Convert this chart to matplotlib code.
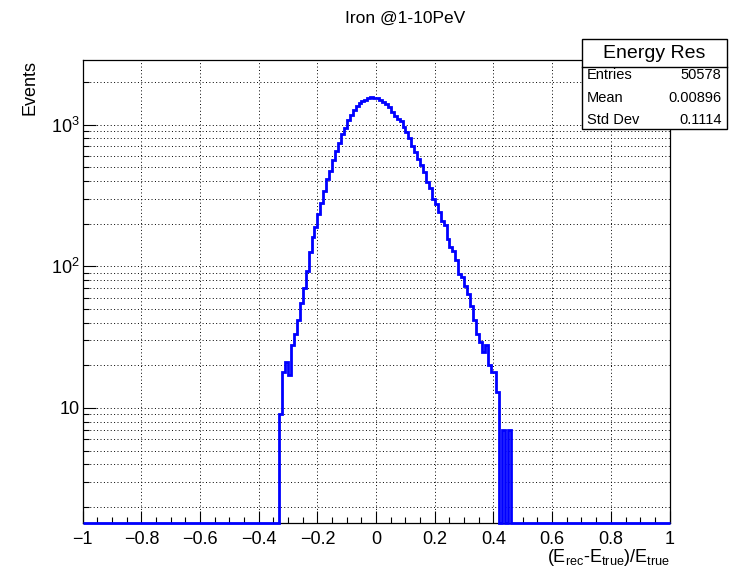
import numpy as np
import matplotlib
matplotlib.use("Agg")
import matplotlib.pyplot as plt
from matplotlib.ticker import MultipleLocator, LogLocator, FuncFormatter, NullFormatter
from matplotlib.patches import Rectangle

plt.rcParams['font.family'] = ['Liberation Sans', 'DejaVu Sans']
plt.rcParams['mathtext.fontset'] = 'custom'
plt.rcParams['mathtext.rm'] = 'Liberation Sans'
plt.rcParams['mathtext.it'] = 'Liberation Sans:italic'

# histogram: 200 bins on [-1, 1], filled range starts at -0.33
x_lo, x_hi, n_bins = -1.0, 1.0, 200
first_filled_edge = -0.33
counts_filled = [
    9, 18, 21, 17, 28, 33, 42, 55, 70, 92,
    125, 160, 190, 235, 280, 340, 410, 470, 560, 650,
    745, 860, 950, 1080, 1170, 1265, 1345, 1415, 1455, 1500,
    1540, 1552, 1550,
    1548, 1500, 1440, 1390, 1320, 1235, 1150, 1100, 1060, 960,
    880, 800, 710, 640, 575, 520, 460, 390, 355, 300,
    275, 240, 208, 196, 155, 136, 128, 110, 88, 84,
    72, 64, 52, 42, 33, 29, 25, 28, 20, 18,
    18, 13, 0, 7, 0, 7,
]

stat_title = "Energy Res"
stat_names = ["Entries", "Mean", "Std Dev"]
stat_values = ["50578", "0.00896", "0.1114"]

y_lo, y_hi = 1.54, 2876

edges = np.linspace(x_lo, x_hi, n_bins + 1)
counts = np.zeros(n_bins)
i0 = int(round((first_filled_edge - x_lo) / (x_hi - x_lo) * n_bins))
counts[i0:i0 + len(counts_filled)] = counts_filled
drawn = np.clip(counts, y_lo, None)

fig = plt.figure(figsize=(7.43, 5.75), dpi=100)
ax = fig.add_axes([0.1113, 0.0904, 0.7898, 0.8061])

ax.stairs(drawn, edges, baseline=None, color=(0, 0, 1), lw=2.0, clip_on=False, zorder=3)

ax.set_yscale('log')
ax.set_xlim(x_lo, x_hi)
ax.set_ylim(y_lo, y_hi)

ax.xaxis.set_major_locator(MultipleLocator(0.2))
ax.xaxis.set_minor_locator(MultipleLocator(0.05))
ax.yaxis.set_major_locator(LogLocator(base=10, numticks=10))
ax.yaxis.set_minor_locator(LogLocator(base=10, subs=np.arange(2, 10), numticks=20))
ax.yaxis.set_minor_formatter(NullFormatter())


def xfmt(v, pos):
    v = round(v, 6) + 0.0
    return ("%g" % v).replace("-", "\u2212")


def yfmt(v, pos):
    e = int(round(np.log10(v)))
    if e == 1:
        return "10"
    return r"$\mathregular{10^{%d}}$" % e


ax.xaxis.set_major_formatter(FuncFormatter(xfmt))
ax.yaxis.set_major_formatter(FuncFormatter(yfmt))

ax.tick_params(which='both', direction='in', top=False, right=False,
               labelsize=13, width=0.8)
ax.tick_params(which='major', length=9)
ax.tick_params(which='minor', length=4.5)
ax.tick_params(axis='x', which='major', pad=6)
ax.tick_params(axis='y', which='major', pad=2)

ax.grid(True, which='major', axis='x', color='black', lw=0.7, ls=(0, (1, 2.5)))
ax.grid(True, which='both', axis='y', color='black', lw=0.7, ls=(0, (1, 2.5)))
for s in ax.spines.values():
    s.set_linewidth(0.9)

# titles in ROOT placement
fig.text(405 / 743, 1 - 18 / 575, "Iron @1-10PeV", ha='center', va='center', fontsize=12.5)
fig.text(30 / 743, 1 - 60 / 575, "Events", rotation=90, ha='center', va='top', fontsize=13)
fig.text(670 / 743, 1 - 547 / 575,
         r"$\mathregular{(E_{rec}\text{-}E_{true})/E_{true}}$",
         ha='right', va='top', fontsize=13)

# statistics box
bx0, bx1, by0, by1, bdiv = 581.7, 726.7, 39.3, 129.3, 66.7
fig.patches.append(Rectangle((bx0 / 743, 1 - by1 / 575), (bx1 - bx0) / 743, (by1 - by0) / 575,
                             transform=fig.transFigure, facecolor='white',
                             edgecolor='black', lw=1.0, zorder=5))
fig.lines.append(plt.Line2D([bx0 / 743, bx1 / 743], [1 - bdiv / 575] * 2,
                            transform=fig.transFigure, color='black', lw=1.0, zorder=6))
fig.text((bx0 + bx1) / 2 / 743, 1 - (by0 + bdiv) / 2 / 575, stat_title,
         ha='center', va='center', fontsize=14, zorder=7)
for j, (name, val) in enumerate(zip(stat_names, stat_values)):
    yy = 1 - (75 + j * 22.5) / 575
    fig.text((bx0 + 5) / 743, yy, name, ha='left', va='center', fontsize=10.5, zorder=7)
    fig.text((bx1 - 5) / 743, yy, val, ha='right', va='center', fontsize=10.5, zorder=7)

fig.savefig("out.png", dpi=100)
